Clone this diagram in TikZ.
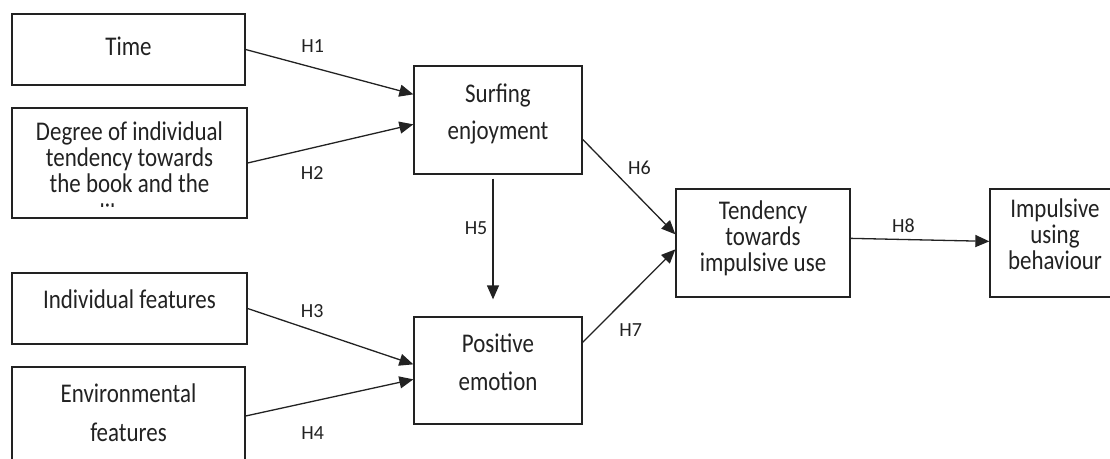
\documentclass[tikz,border=0pt]{standalone}
\usepackage{fontspec}
\setmainfont{Carlito}
\newfontfamily\boxfont{Carlito}[FakeStretch=0.85]
\usepackage{tikz}
\usetikzlibrary{positioning, arrows.meta, calc}
\definecolor{mygray}{HTML}{222222}
\tikzset{
	boxnode/.style={
			rectangle,
			draw=mygray,
			line width=1.3pt,
			fill=white,
			align=center,
			inner sep=0pt,
			font=\boxfont\fontsize{27}{26}\selectfont,
			text=mygray
		},
	hyplabel/.style={
			inner sep=0pt,
			font=\fontsize{20}{20}\selectfont,
			text=mygray
		},
	arrowline/.style={
			line width=1.3pt,
			draw=mygray,
			-{Triangle[length=14pt,width=12pt]}
		}
}

\begin{document}
\begin{tikzpicture}[x=1pt, y=-1pt]
\useasboundingbox (0,0) rectangle (1110,458);

\node[boxnode, minimum width=233pt, minimum height=71pt, text depth=7pt] (time) at (128.5,49.5) {Time};
\node[boxnode, minimum width=235pt, minimum height=110pt, text depth=11pt] (degree) at (129.5,163)
  {Degree of individual\\tendency towards\\the book and the};
\node[boxnode, minimum width=235pt, minimum height=71pt, text depth=18pt] (indiv) at (129.5,308.5) {Individual features};
\node[boxnode, minimum width=233pt, minimum height=98pt, text depth=6pt] (env) at (128.5,416)
  {Environmental\\[13pt]features};

\node[boxnode, minimum width=168pt, minimum height=108pt, text depth=16pt] (surf) at (498,120)
  {Surfing\\[11pt]enjoyment};
\node[boxnode, minimum width=168pt, minimum height=107pt, text depth=16pt] (pos) at (498,370.5)
  {Positive\\[12pt]emotion};
\node[boxnode, minimum width=174pt, minimum height=108pt, text depth=13pt] (tend) at (763,243)
  {Tendency\\towards\\impulsive use};
\node[boxnode, minimum width=130pt, minimum height=108pt, text depth=17pt] (impl) at (1055,243)
  {Impulsive\\using\\behaviour};

% last line of the first box is cut off by the box
\begin{scope}
\clip (13,195) rectangle (246,206);
\node[boxnode, draw=none, fill=none, anchor=base] (degreerest) at (129.5,222) {library};
\end{scope}

\draw[arrowline] (time.east) -- ([yshift=-29pt]surf.north west)
  node[hyplabel, pos=0.4, above=14pt] {H1};
\draw[arrowline] (degree.east) -- ([yshift=-59pt]surf.north west)
  node[hyplabel, pos=0.39, below=18pt] {H2};
\draw[arrowline] (indiv.east) -- ([yshift=-48pt]pos.north west)
  node[hyplabel, pos=0.39, above=12pt] {H3};
\draw[arrowline] (env.east) -- ([yshift=-63pt]pos.north west)
  node[hyplabel, pos=0.4, below=25pt] {H4};

\draw[arrowline] ([xshift=-5pt, yshift=-4pt]surf.south) -- ([xshift=-5pt, yshift=17pt]pos.north)
  node[hyplabel, pos=0.41, left=5pt] {H5};

\draw[arrowline] ([yshift=-74pt]surf.north east) -- ([yshift=-46pt]tend.north west)
  node[hyplabel, pos=0.3, right=17pt] {H6};
\draw[arrowline] ([yshift=-26pt]pos.north east) -- ([yshift=-61pt]tend.north west)
  node[hyplabel, pos=0.25, below right=4pt and 13pt] {H7};

\draw[arrowline] ([yshift=-50pt]tend.north east) -- ([yshift=-53pt]impl.north west)
  node[hyplabel, pos=0.38, above=6pt] {H8};
\end{tikzpicture}
\end{document}
